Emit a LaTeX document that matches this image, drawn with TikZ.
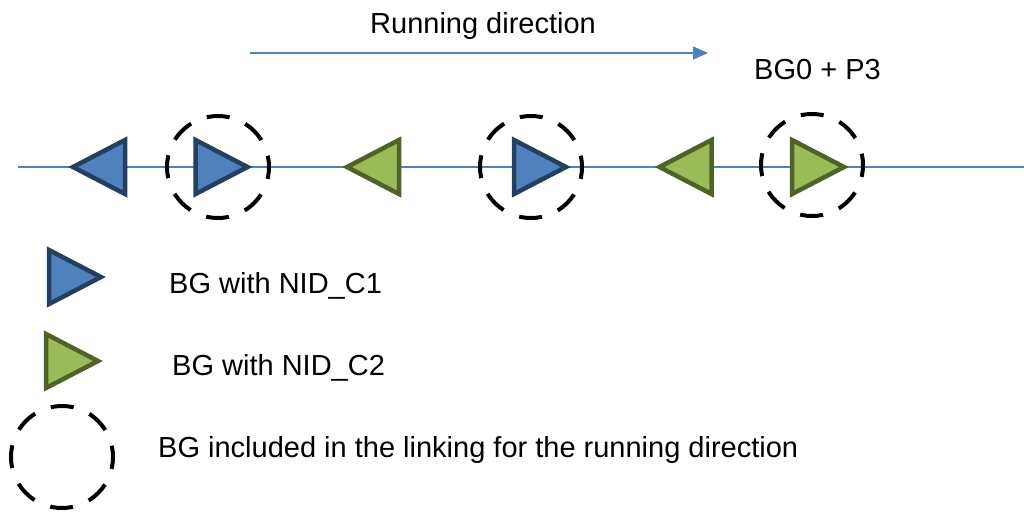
\documentclass[tikz,border=0pt]{standalone}
\usepackage{fontspec}
\setmainfont{Liberation Sans}
\usetikzlibrary{arrows.meta}
\definecolor{nidblue}{HTML}{4F81BD}
\definecolor{nidbluedark}{HTML}{243F60}
\definecolor{nidgreen}{HTML}{9BBB59}
\definecolor{nidgreendark}{HTML}{4F6228}
\tikzset{
  track/.style={draw=nidblue, line width=1.5pt},
  cone/.style={fill=nidblue, draw=nidbluedark, line width=4.5pt, line join=miter},
  ctwo/.style={fill=nidgreen, draw=nidgreendark, line width=4.5pt, line join=miter},
  linkring/.style={draw=black, line width=4pt, dash pattern=on 23pt off 17pt, dash phase=11pt},
  lbl/.style={font=\fontsize{29}{34}\selectfont, inner sep=0pt, anchor=base west},
}
% balise group triangles: centre x, centre y, style
\newcommand{\bgright}[3]{\filldraw[#3] (#1,#2) ++(-26,-27) -- ++(52,27) -- ++(-52,27) -- cycle;}
\newcommand{\bgleft}[3]{\filldraw[#3] (#1,#2) ++(26,-27) -- ++(-52,27) -- ++(52,27) -- cycle;}
\begin{document}
\begin{tikzpicture}[x=1pt,y=-1pt]
\useasboundingbox (0,0) rectangle (1024,512);
% running direction
\node[lbl] (run) at (370,33) {Running direction};
\coordinate (runA) at (250,53);
\coordinate (runB) at (708,53);
\draw[track, -{Triangle[length=15pt,width=13pt]}] (runA) -- (runB);
\node[lbl] (bgzero) at (754,79) {BG0 + P3};
% track
\coordinate (trackA) at (18,167);
\coordinate (trackB) at (1024,167);
\draw[track] (trackA) -- (trackB);
\bgleft{99}{167}{cone}
\bgright{221.5}{167}{cone}
\bgleft{373}{167}{ctwo}
\bgright{540}{167}{cone}
\bgleft{685.5}{167}{ctwo}
\bgright{818}{167}{ctwo}
\draw[linkring] (218,167) circle (51);
\draw[linkring] (531,167) circle (51);
\draw[linkring] (812,165) circle (51);
% legend
\bgright{75}{277}{cone}
\bgright{72}{361}{ctwo}
\draw[linkring] (62,457) circle (51);
\node[lbl] (legone) at (169,293) {BG with NID\_C1};
\node[lbl] (legtwo) at (172,375) {BG with NID\_C2};
\node[lbl] (legring) at (158,457) {BG included in the linking for the running direction};
\end{tikzpicture}
\end{document}
